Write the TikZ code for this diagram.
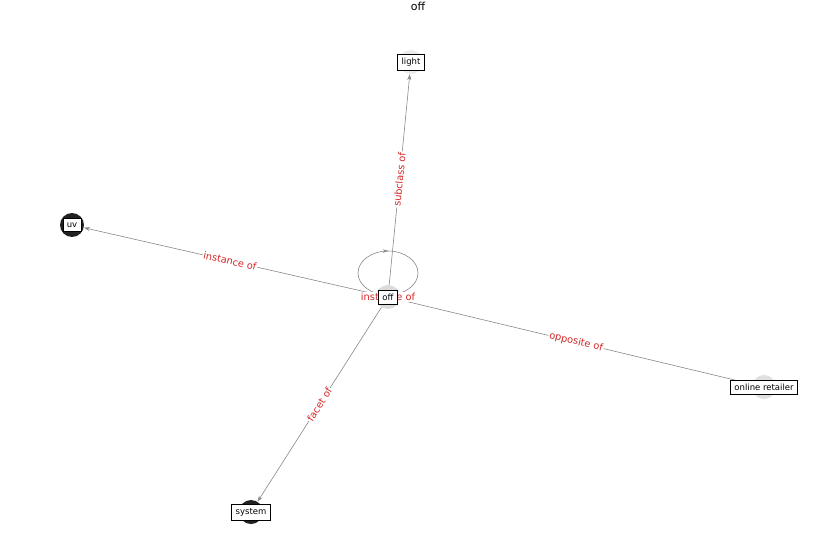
\documentclass[tikz,border=0pt]{standalone}
\usepackage{fontspec}
\setmainfont{DejaVu Sans}
\usetikzlibrary{arrows.meta,decorations.markings}
\definecolor{edgeRed}{HTML}{D62728}
\definecolor{edgeGray}{HTML}{888888}
\begin{document}
\begin{tikzpicture}
[x=1pt,y=-1pt,
  edgeDecorate/.style={-{Stealth[length=6pt,width=4pt]},draw=edgeGray,line width=0.6pt},%
  circleDecorate/.style={shape=circle,minimum size=24pt,inner sep=0pt},%
  boxDecorate/.style={draw,thin,fill=white,inner xsep=4pt,inner ysep=4pt,font=\fontsize{8.5}{10}\selectfont},%
  labelDecorate/.style={sloped,text=edgeRed,fill=white,inner sep=1pt,font=\fontsize{9.8}{11}\selectfont}]
\useasboundingbox (0,0) rectangle (837,559);
\node (title) at (418,6) {\fontsize{11}{12}\selectfont off};
%% nodes or vertices
\foreach \nodename/\x/\y/\shade in {
  off/388/297/black!14, light/411/62/black!8, uv/72/225/black!87,
  retailer/764/387/black!12, system/251/512/black!87}
{
  \node (\nodename) at (\x,\y) [circleDecorate,fill=\shade] {};
}
%% edges or lines
\path
\foreach \endnode/\caption in {
  light/subclass of, uv/instance of, retailer/opposite of, system/facet of}
{
  (off) edge[edgeDecorate] node[labelDecorate] {\caption} (\endnode)
};
%% self loop
\draw[draw=edgeGray,line width=0.6pt,
  postaction={decorate,decoration={markings,
    mark=at position 0.75 with {\arrow{Stealth[length=5pt,width=3.5pt]}}}}]
  (off) ++(0,-24) ellipse [x radius=30, y radius=22];
\node[labelDecorate] (loop) at (off) {instance of};
%% label boxes
\foreach \nodename/\caption in {
  off/off, light/light, uv/uv, retailer/online retailer, system/system}
{
  \node (\nodename-box) at (\nodename) [boxDecorate] {\caption};
}
\end{tikzpicture}
\end{document}
